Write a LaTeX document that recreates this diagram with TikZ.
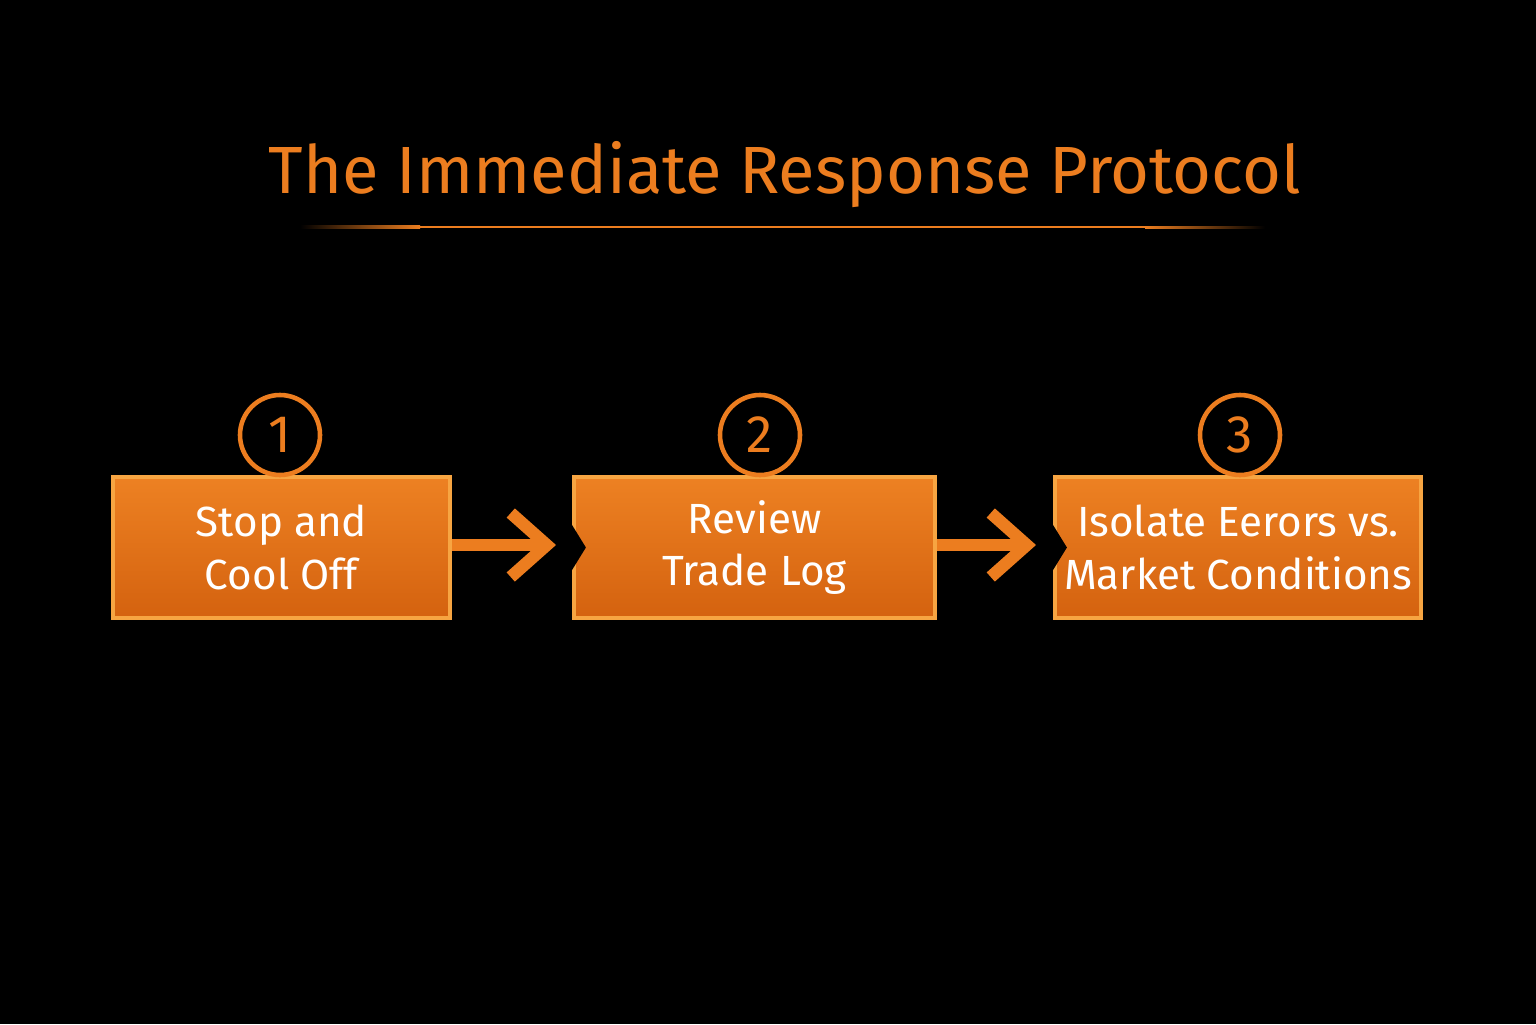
\documentclass[tikz,border=0pt]{standalone}
\usepackage{fontspec}
\setmainfont{Fira Sans}
\usetikzlibrary{arrows.meta,positioning}
\definecolor{protoorange}{HTML}{EC7D1F}
\definecolor{protolight}{HTML}{F7A542}
\definecolor{protodark}{HTML}{D4620F}
\begin{document}
\begin{tikzpicture}[every text node part/.style={align=center}]
        \tikzset{
          stepbox/.style={draw=protolight, line width=1.2pt, top color=protoorange!90!protolight, bottom color=protodark,
            minimum height=1.41cm, text=white, font=\fontsize{12}{15}\selectfont, inner sep=0pt},
          badge/.style={circle, draw=protoorange, line width=1.3pt, fill=black, minimum size=0.8cm,
            text=protoorange, font=\fontsize{15}{18}\selectfont, inner sep=0pt},
          flow/.style={protoorange, line width=3.5pt, -{Straight Barb[length=3.6mm,width=6.4mm,line width=3.5pt]}},
          notch/.style={fill=black, draw=none},
        }
        \fill[black] (0,0) rectangle (15.36,10.24);
        \node[text=protoorange, font=\fontsize{19}{22}\selectfont] (title) at (7.85,8.49) {The Immediate Response Protocol};
        \coordinate (lineL) at (3.0,7.97);
        \coordinate (lineR) at (12.65,7.97);
        \shade[left color=black, right color=protoorange] (lineL) ++(0,-0.012) rectangle ++(1.2,0.024);
        \fill[protoorange] (4.2,7.958) rectangle (11.45,7.982);
        \shade[left color=protoorange, right color=black] (11.45,7.958) rectangle (lineR);
        % 
        \node[stepbox, minimum width=3.37cm] (stop) at (2.815,4.765) {Stop and\\Cool Off};
        \node[stepbox, minimum width=3.61cm] (review) at (7.545,4.765) {Review\\Trade Log};
        \node[stepbox, minimum width=3.66cm] (isolate) at (12.38,4.765) {Isolate Eerors vs.\\Market Conditions};
        \fill[notch] (review.west) ++(-0.02,0.26) -- ++(0.16,-0.26) -- ++(-0.16,-0.26) -- cycle;
        \fill[notch] (isolate.west) ++(-0.02,0.26) -- ++(0.16,-0.26) -- ++(-0.16,-0.26) -- cycle;
        % 
        \node[badge] (one) at (2.8,5.89) {1};
        \node[badge] (two) at (7.6,5.89) {2};
        \node[badge] (three) at (12.4,5.89) {3};
        % 
        \coordinate (tipA) at (5.56,4.79);
        \coordinate (tipB) at (10.36,4.79);
        \draw[flow] (stop.east |- tipA) -- (tipA);
        \draw[flow] (review.east |- tipB) -- (tipB);
\end{tikzpicture}
\end{document}
